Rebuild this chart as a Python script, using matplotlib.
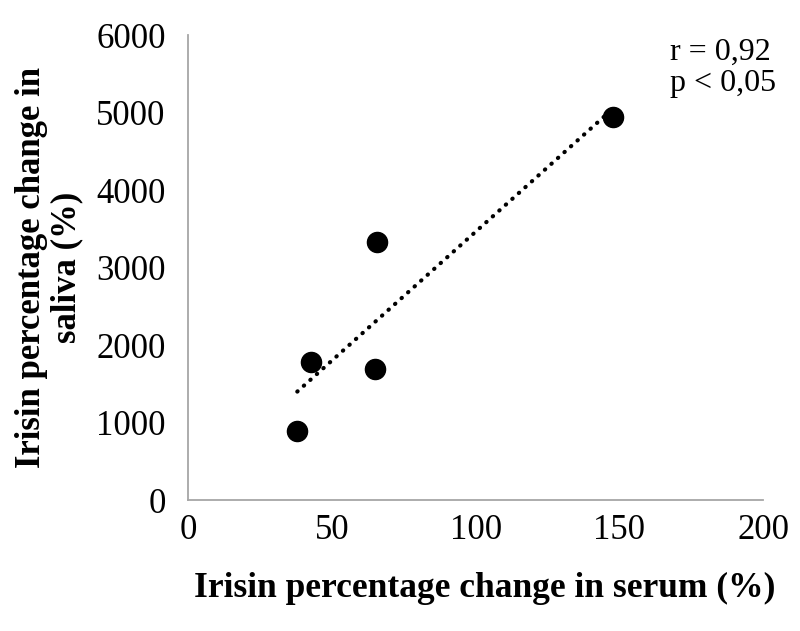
import numpy as np
import matplotlib
matplotlib.use("Agg")
import matplotlib.pyplot as plt

serum = [38.0, 42.8, 64.9, 65.8, 147.9]
saliva = [894, 1777, 1695, 3325, 4938]
xticks = [0, 50, 100, 150, 200]
yticks = [0, 1000, 2000, 3000, 4000, 5000, 6000]

plt.rcParams['font.family'] = ['Liberation Serif', 'DejaVu Serif']

fig = plt.figure(figsize=(8, 6.31), dpi=100)
ax = fig.add_axes([0.235, 0.2076, 0.719, 0.7369])

slope, intercept = np.polyfit(serum, saliva, 1)
xl = np.array([min(serum), max(serum)])
ax.plot(xl, slope * xl + intercept, color='black', lw=3,
        linestyle=(0, (0.1, 2.0)), dash_capstyle='round', zorder=2)
ax.scatter(serum, saliva, s=210, color='black', zorder=3)

ax.set_xlim(0, 200)
ax.set_ylim(0, 6000)
ax.set_xticks(xticks)
ax.set_yticks(yticks)
ax.tick_params(length=0, labelsize=25)
ax.tick_params(axis='x', pad=10)
ax.tick_params(axis='y', pad=16)
for s in ['top', 'right']:
    ax.spines[s].set_visible(False)
for s in ['left', 'bottom']:
    ax.spines[s].set_color('#a6a6a6')
    ax.spines[s].set_linewidth(1.3)

ax.set_xlabel('Irisin percentage change in serum (%)', fontsize=25.5,
              fontweight='bold')
ax.xaxis.set_label_coords(0.516, -0.155)
ax.set_ylabel('Irisin percentage change in\nsaliva (%)', fontsize=25,
              fontweight='bold', labelpad=9, linespacing=1.12)

ax.text(0.838, 0.995, 'r = 0,92\np < 0,05', transform=ax.transAxes,
        fontsize=23, va='top', ha='left', linespacing=1.1)

fig.savefig('out.png', dpi=100)
